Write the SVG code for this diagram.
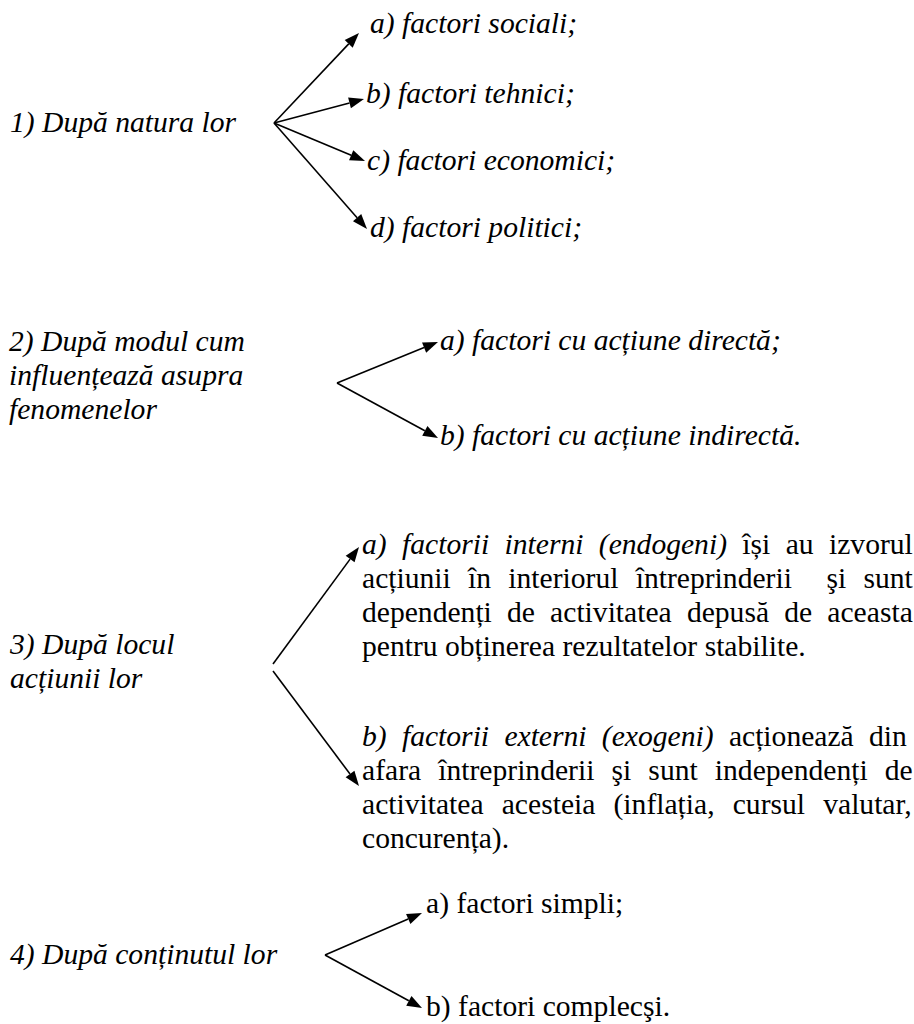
<svg xmlns="http://www.w3.org/2000/svg" width="914" height="1024" viewBox="0 0 914 1024">
<defs>
<style>
.c{stroke:#000;stroke-width:1.6;fill:none}
.h{fill:#000;stroke:none}
</style>
</defs>
<rect width="914" height="1024" fill="#fff"/>
<g id="connectors">
<line class="c" x1="274" y1="123" x2="348.7" y2="43.9"/><polygon class="h" points="359,33 352.70,47.68 344.70,40.12"/>
<line class="c" x1="274" y1="123" x2="349.5" y2="102.9"/><polygon class="h" points="364,99 350.93,108.18 348.09,97.56"/>
<line class="c" x1="274" y1="123" x2="351.2" y2="155.2"/><polygon class="h" points="365,161 349.04,160.30 353.28,150.14"/>
<line class="c" x1="274" y1="123" x2="357.1" y2="217.7"/><polygon class="h" points="367,229 352.98,221.35 361.24,214.09"/>
<line class="c" x1="337" y1="383" x2="424.1" y2="347.6"/><polygon class="h" points="438,342 426.17,352.74 422.03,342.54"/>
<line class="c" x1="337" y1="383" x2="424.8" y2="430.8"/><polygon class="h" points="438,438 422.20,435.66 427.46,426.00"/>
<line class="c" x1="273" y1="664" x2="350.1" y2="559.1"/><polygon class="h" points="359,547 354.55,562.35 345.69,555.83"/>
<line class="c" x1="273" y1="671" x2="350.0" y2="774.0"/><polygon class="h" points="359,786 345.62,777.28 354.42,770.70"/>
<line class="c" x1="325" y1="955" x2="408.2" y2="919.0"/><polygon class="h" points="422,913 410.42,924.01 406.04,913.91"/>
<line class="c" x1="325" y1="955" x2="408.8" y2="1000.8"/><polygon class="h" points="422,1008 406.19,1005.64 411.47,995.98"/>
</g>
<g id="n1"><text font-family="'Liberation Serif', 'DejaVu Serif', serif" font-size="29.6" font-style="italic" x="10" y="132">1) După natura lor</text></g>
<g id="n1a"><text font-family="'Liberation Serif', 'DejaVu Serif', serif" font-size="29.6" font-style="italic" x="370" y="33">a) factori sociali;</text></g>
<g id="n1b"><text font-family="'Liberation Serif', 'DejaVu Serif', serif" font-size="29.6" font-style="italic" x="366" y="103">b) factori tehnici;</text></g>
<g id="n1c"><text font-family="'Liberation Serif', 'DejaVu Serif', serif" font-size="29.6" font-style="italic" x="367" y="170">c) factori economici;</text></g>
<g id="n1d"><text font-family="'Liberation Serif', 'DejaVu Serif', serif" font-size="29.6" font-style="italic" x="370" y="237">d) factori politici;</text></g>
<g id="n2"><text font-family="'Liberation Serif', 'DejaVu Serif', serif" font-size="29.6" font-style="italic" x="9" y="351">2) După modul cum</text><text font-family="'Liberation Serif', 'DejaVu Serif', serif" font-size="29.6" font-style="italic" x="9" y="385">influențează asupra</text><text font-family="'Liberation Serif', 'DejaVu Serif', serif" font-size="29.6" font-style="italic" x="9" y="419">fenomenelor</text></g>
<g id="n2a"><text font-family="'Liberation Serif', 'DejaVu Serif', serif" font-size="29.6" font-style="italic" x="440" y="350">a) factori cu acțiune directă;</text></g>
<g id="n2b"><text font-family="'Liberation Serif', 'DejaVu Serif', serif" font-size="29.6" font-style="italic" x="440" y="445">b) factori cu acțiune indirectă.</text></g>
<g id="n3"><text font-family="'Liberation Serif', 'DejaVu Serif', serif" font-size="29.6" font-style="italic" x="10" y="654">3) După locul</text><text font-family="'Liberation Serif', 'DejaVu Serif', serif" font-size="29.6" font-style="italic" x="10" y="688">acțiunii lor</text></g>
<g id="n3a">
<text font-family="'Liberation Serif', 'DejaVu Serif', serif" font-size="29.6" x="362" y="554" word-spacing="7.97"><tspan font-style="italic">a) factorii interni (endogeni)</tspan> își au izvorul</text>
<text font-family="'Liberation Serif', 'DejaVu Serif', serif" font-size="29.6" x="362" y="588" word-spacing="9.88" style="white-space:pre">acțiunii în interiorul întreprinderii  şi sunt</text>
<text font-family="'Liberation Serif', 'DejaVu Serif', serif" font-size="29.6" x="362" y="622" word-spacing="7.78">dependenți de activitatea depusă de aceasta</text>
<text font-family="'Liberation Serif', 'DejaVu Serif', serif" font-size="29.6" x="362" y="656">pentru obținerea rezultatelor stabilite.</text>
</g>
<g id="n3b">
<text font-family="'Liberation Serif', 'DejaVu Serif', serif" font-size="29.6" x="362" y="746" word-spacing="7.9"><tspan font-style="italic">b) factorii externi (exogeni)</tspan> acționează din</text>
<text font-family="'Liberation Serif', 'DejaVu Serif', serif" font-size="29.6" x="362" y="780" word-spacing="9.73">afara întreprinderii şi sunt independenți de</text>
<text font-family="'Liberation Serif', 'DejaVu Serif', serif" font-size="29.6" x="362" y="814" word-spacing="10.75">activitatea acesteia (inflația, cursul valutar,</text>
<text font-family="'Liberation Serif', 'DejaVu Serif', serif" font-size="29.6" x="362" y="848">concurența).</text>
</g>
<g id="n4"><text font-family="'Liberation Serif', 'DejaVu Serif', serif" font-size="29.6" font-style="italic" x="10" y="964">4) După conținutul lor</text></g>
<g id="n4a"><text font-family="'Liberation Serif', 'DejaVu Serif', serif" font-size="29.6" x="426" y="913">a) factori simpli;</text></g>
<g id="n4b"><text font-family="'Liberation Serif', 'DejaVu Serif', serif" font-size="29.6" x="426" y="1016">b) factori complecşi.</text></g>
</svg>
